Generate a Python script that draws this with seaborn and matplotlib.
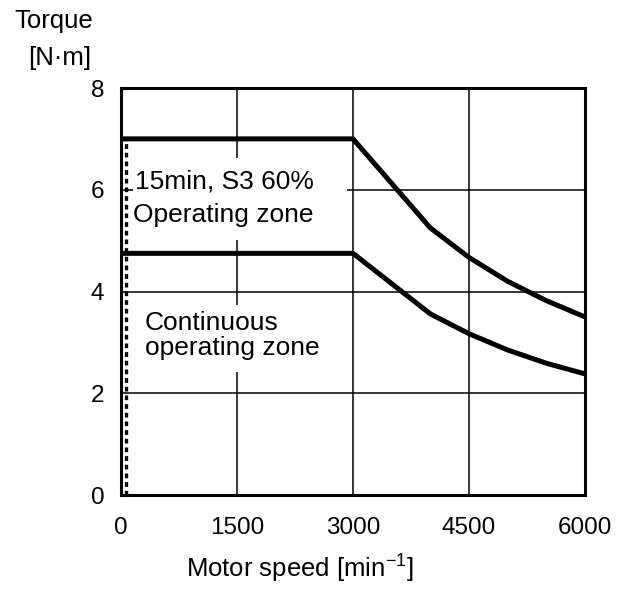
import matplotlib
matplotlib.use('Agg')
import matplotlib.pyplot as plt
import seaborn as sns
import pandas as pd
from matplotlib.patches import Rectangle

# ---- data ----
speed = [0, 3000, 4000, 4500, 5000, 5500, 6000]
s3_torque = [7.0, 7.0, 5.25, 4.67, 4.20, 3.82, 3.50]
cont_torque = [4.75, 4.75, 3.56, 3.17, 2.85, 2.59, 2.38]
x_ticks = [0, 1500, 3000, 4500, 6000]
y_ticks = [0, 2, 4, 6, 8]
dotted_x = [65, 65]
dotted_y = [0, 7.0]

sns.set_theme(style='white')
plt.rcParams['font.family'] = ['Liberation Sans', 'DejaVu Sans']
plt.rcParams['text.color'] = 'black'
plt.rcParams['mathtext.fontset'] = 'custom'
plt.rcParams['mathtext.rm'] = 'Liberation Sans'
plt.rcParams['mathtext.it'] = 'Liberation Sans:italic'

fig = plt.figure(figsize=(6.23, 5.91), dpi=100)
ax = fig.add_axes([121/623, 96/591, 464/623, 407/591])

df = pd.DataFrame({
    'speed': speed + speed,
    'torque': s3_torque + cont_torque,
    'zone': ['s3'] * len(speed) + ['cont'] * len(speed),
})
sns.lineplot(data=df, x='speed', y='torque', hue='zone',
             palette={'s3': 'black', 'cont': 'black'}, linewidth=3.6,
             legend=False, ax=ax, zorder=4)
ax.plot(dotted_x, dotted_y, color='black', lw=2.4, linestyle=(0, (1.4, 1.2)), zorder=3)

ax.set_xlim(0, 6000)
ax.set_ylim(0, 8)
ax.set_xticks(x_ticks)
ax.set_yticks(y_ticks)
ax.set_xticklabels([str(v) for v in x_ticks])
ax.set_yticklabels([str(v) for v in y_ticks])
ax.set_xlabel('')
ax.set_ylabel('')
ax.grid(True, color='black', lw=1.1)
ax.set_axisbelow(True)
ax.tick_params(axis='both', length=0, labelsize=17.5, colors='black')
ax.tick_params(axis='x', pad=16)
ax.tick_params(axis='y', pad=12)
for sp in ax.spines.values():
    sp.set_color('black')
    sp.set_linewidth(2.2)
    sp.set_visible(True)

# white label backgrounds
ax.add_patch(Rectangle((155, 5.01), 2767, 1.61, facecolor='white', edgecolor='none', zorder=1.5))
ax.add_patch(Rectangle((245, 2.42), 2200, 1.31, facecolor='white', edgecolor='none', zorder=1.5))

ax.text(181, 6.03, '15min, S3 60%', fontsize=19, va='baseline', ha='left', zorder=2, color='black')
ax.text(155, 5.37, 'Operating zone', fontsize=19, va='baseline', ha='left', zorder=2, color='black')
ax.text(310, 3.24, 'Continuous', fontsize=19, va='baseline', ha='left', zorder=2, color='black')
ax.text(310, 2.75, 'operating zone', fontsize=19, va='baseline', ha='left', zorder=2, color='black')

fig.text(14/623, 1 - 28/591, 'Torque', fontsize=18.5, ha='left', va='baseline', color='black')
fig.text(28/623, 1 - 65/591, '[N·m]', fontsize=18.5, ha='left', va='baseline', color='black')
fig.text(300/623, 1 - 578/591, 'Motor speed [min$^{\\mathregular{-1}}$]', fontsize=18.5,
         ha='center', va='baseline', color='black')

fig.savefig('out.png', dpi=100)
